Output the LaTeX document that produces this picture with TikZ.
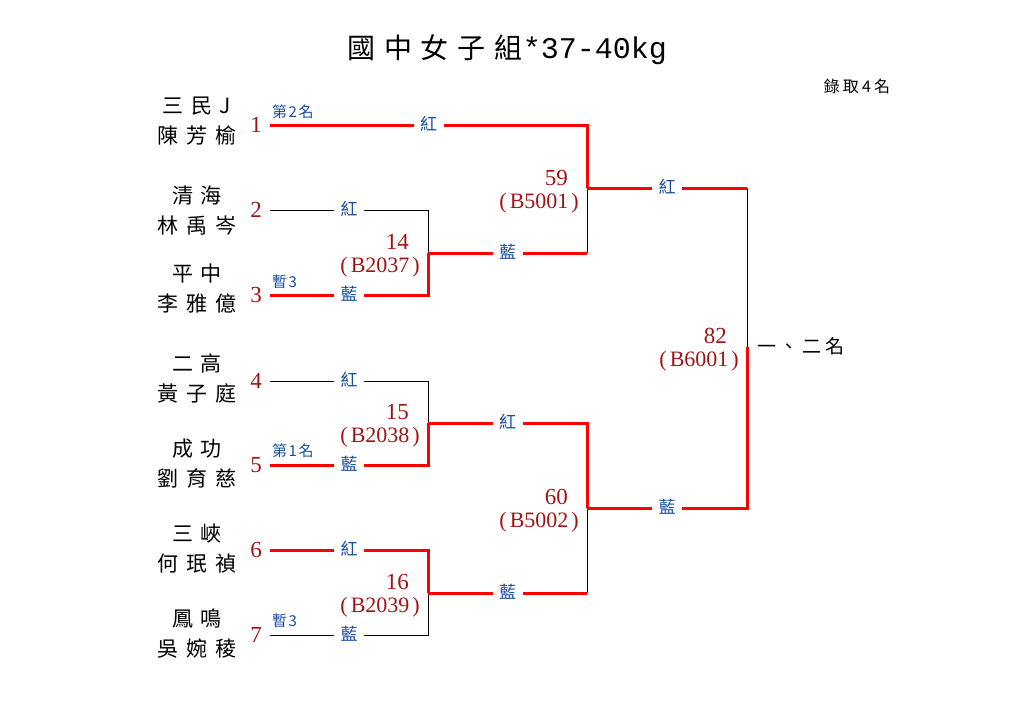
\documentclass[tikz,border=0pt]{standalone}
\usepackage{fontspec}
\setmainfont{Liberation Serif}
\newfontfamily\cjk{Noto Sans CJK TC}
\newfontfamily\cjkname[LetterSpace=36]{Noto Sans CJK TC}
\newfontfamily\cjktitle[LetterSpace=32]{Noto Sans CJK TC}
\newfontfamily\cjksmall[LetterSpace=20]{Noto Sans CJK TC}
\newfontfamily\cjknote[LetterSpace=10]{Noto Sans CJK TC}
\newfontfamily\titlemono{Liberation Mono}
\newcommand\mcodetext[1]{(\kern3pt#1\kern3pt)}
\definecolor{dred}{RGB}{160,20,20}
\definecolor{lblue}{RGB}{25,75,160}
\definecolor{bred}{RGB}{255,0,0}
\tikzset{
  redline/.style={draw=bred,line width=3pt},
  blkline/.style={draw=black,line width=0.9pt},
  namebox/.style={inner sep=0pt,align=center,font=\cjkname\fontsize{21}{30}\selectfont},
  numbox/.style={inner sep=0pt,text=dred,font=\fontsize{23}{23}\selectfont},
  lbl/.style={fill=white,text=lblue,inner xsep=6.5pt,inner ysep=1pt,font=\cjk\fontsize{17}{17}\selectfont},
  notebox/.style={inner sep=0pt,anchor=west,text=lblue,font=\cjknote\fontsize{15}{15}\selectfont},
  mnum/.style={inner sep=0pt,anchor=east,text=dred,font=\fontsize{23}{23}\selectfont},
  mcode/.style={inner sep=0pt,anchor=east,text=dred,font=\fontsize{22}{22}\selectfont},
}
\begin{document}
\begin{tikzpicture}[x=1pt,y=-1pt]
\path[use as bounding box] (0,0) rectangle (1010,720);
% title
\node[inner sep=0pt] (title) at (507,50) {{\cjktitle\fontsize{28}{28}\selectfont 國中女子組}{\titlemono\fontsize{30}{30}\selectfont *37-40kg}};
\node[inner sep=0pt,font=\cjksmall\fontsize{16}{16}\selectfont] (quota) at (857,86) {錄取4名};
% start points
\coordinate (s1) at (270,125);
\coordinate (s2) at (270,210);
\coordinate (s3) at (270,295);
\coordinate (s4) at (270,381);
\coordinate (s5) at (270,465);
\coordinate (s6) at (270,550);
\coordinate (s7) at (270,635);
% junctions
\coordinate (j14) at (428,253);
\coordinate (j15) at (428,423);
\coordinate (j16) at (428,593);
\coordinate (j59) at (587,188);
\coordinate (j60) at (587,508);
\coordinate (j82) at (747,347);
% names
\node[namebox] (n1) at (197,121) {三民J\\陳芳榆};
\node[namebox] (n2) at (197,211) {清海\\林禹岑};
\node[namebox] (n3) at (197,289) {平中\\李雅億};
\node[namebox] (n4) at (197,379) {二高\\黃子庭};
\node[namebox] (n5) at (197,464) {成功\\劉育慈};
\node[namebox] (n6) at (197,549) {三峽\\何珉禎};
\node[namebox] (n7) at (197,634) {鳳鳴\\吳婉稜};
% numbers
\node[numbox] (k1) at (256,125) {1};
\node[numbox] (k2) at (256,210) {2};
\node[numbox] (k3) at (256,295) {3};
\node[numbox] (k4) at (256,381) {4};
\node[numbox] (k5) at (256,465) {5};
\node[numbox] (k6) at (256,550) {6};
\node[numbox] (k7) at (256,635) {7};
% black lines
\draw[blkline] (s2) -- (s2 -| j14) -- (j14);
\draw[blkline] (s4) -- (s4 -| j15) -- (j15);
\draw[blkline] (s7) -- (s7 -| j16) -- (j16);
\draw[blkline] (j59) -- (j59 |- j14);
\draw[blkline] (j60) -- (j60 |- j16);
\draw[blkline] (j82 |- j59) -- (j82);
% red lines
\draw[redline] (s1) -- (s1 -| j59) -- (j59);
\draw[redline] (s3) -- (s3 -| j14) -- (j14);
\draw[redline] (s5) -- (s5 -| j15) -- (j15);
\draw[redline] (s6) -- (s6 -| j16) -- (j16);
\draw[redline] (j14) -- (j59 |- j14);
\draw[redline] (j15) -- (j60 |- j15) -- (j60);
\draw[redline] (j16) -- (j60 |- j16);
\draw[redline] (j59) -- (j82 |- j59);
\draw[redline] (j82) -- (j82 |- j60) -- (j60);
% line labels
\node[lbl] (l1) at (428.5,124) {紅};
\node[lbl] (l2) at (349,209) {紅};
\node[lbl] (l3) at (349,294) {藍};
\node[lbl] (l4) at (349,380) {紅};
\node[lbl] (l5) at (349,464) {藍};
\node[lbl] (l6) at (349,549) {紅};
\node[lbl] (l7) at (349,634) {藍};
\node[lbl] (l14) at (507.5,252) {藍};
\node[lbl] (l15) at (507.5,422) {紅};
\node[lbl] (l16) at (507.5,592) {藍};
\node[lbl] (l59) at (667,187) {紅};
\node[lbl] (l60) at (667,507) {藍};
% notes
\node[notebox] (o1) at (272,112) {第2名};
\node[notebox] (o3) at (272,282) {暫3};
\node[notebox] (o5) at (272,451) {第1名};
\node[notebox] (o7) at (272,621) {暫3};
% match labels
\node[mnum] (t14) at (409,242) {14};
\node[mcode] (c14) at (420,267) {\mcodetext{B2037}};
\node[mnum] (t15) at (409,412) {15};
\node[mcode] (c15) at (420,437) {\mcodetext{B2038}};
\node[mnum] (t16) at (409,582) {16};
\node[mcode] (c16) at (420,607) {\mcodetext{B2039}};
\node[mnum] (t59) at (568,178) {59};
\node[mcode] (c59) at (579,203) {\mcodetext{B5001}};
\node[mnum] (t60) at (568,497) {60};
\node[mcode] (c60) at (579,522) {\mcodetext{B5002}};
\node[mnum] (t82) at (727,336) {82};
\node[mcode] (c82) at (739,361) {\mcodetext{B6001}};
\node[inner sep=0pt,anchor=west,font=\cjksmall\fontsize{19}{19}\selectfont] (win) at (757,346) {一、二名};
\end{tikzpicture}
\end{document}
